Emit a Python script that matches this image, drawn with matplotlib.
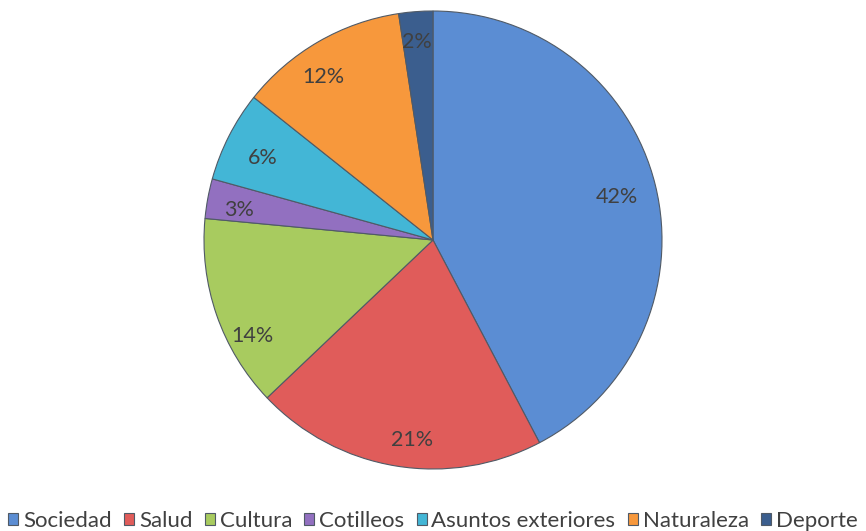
import matplotlib.pyplot as plt

plt.rcParams['font.family'] = ['Lato', 'DejaVu Sans']

categories = ['Sociedad', 'Salud', 'Cultura', 'Cotilleos',
              'Asuntos exteriores', 'Naturaleza', 'Deporte']
shares = [42.3, 20.6, 13.6, 2.8, 6.4, 11.9, 2.4]
colors = ['#5b8dd3', '#e05c5a', '#a8cb5f', '#9270c0',
          '#43b6d6', '#f7983c', '#3b5e8e']

# label anchors, pixels from the top-left corner
label_xy = [(617, 197), (412, 440), (252, 336), (239, 210),
            (263, 158), (323, 77), (417, 42)]

W, H = 866, 531
fig = plt.figure(figsize=(W / 100, H / 100), dpi=100)
ax = fig.add_axes([0, 0, 1, 1])

# pie in pixel units: center (433, 240 from top), radius 229
wedges, texts, autotexts = ax.pie(
    shares, colors=colors, startangle=90, counterclock=False,
    center=(433, H - 240), radius=229, frame=True,
    autopct='%.0f%%', pctdistance=0.85,
    wedgeprops=dict(edgecolor='#505a66', linewidth=0.8),
    textprops=dict(color='#404040', fontsize=15.5))
for t, (x, y) in zip(autotexts, label_xy):
    t.set_position((x, H - y))

ax.set_xlim(0, W)
ax.set_ylim(0, H)
ax.axis('off')

ax.legend(wedges, categories, loc='center', bbox_to_anchor=(0.5, 10 / H),
          bbox_transform=fig.transFigure, ncol=7, frameon=False,
          fontsize=16, handlelength=0.45, handleheight=0.45,
          handletextpad=0.22, columnspacing=0.55, labelcolor='#404040')

fig.savefig('out.png', dpi=100)
